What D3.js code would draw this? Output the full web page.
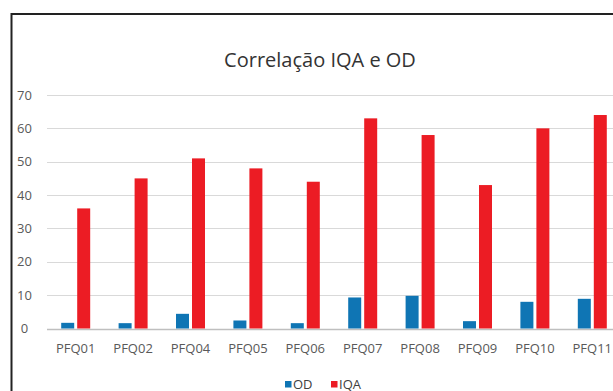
<!DOCTYPE html>
<html>
<head>
<meta charset="utf-8">
<script src="https://cdn.jsdelivr.net/npm/d3@7"></script>
<style>
    body { margin: 0; background: #ffffff; }
    svg { display: block; font-family: "Open Sans", sans-serif; }
</style>
</head>
<body>
<div class="mainView"></div>
<script>
let categories = ["PFQ01","PFQ02","PFQ04","PFQ05","PFQ06","PFQ07","PFQ08","PFQ09","PFQ10","PFQ11"]
let odValues = [1.7, 1.6, 4.4, 2.4, 1.6, 9.3, 9.8, 2.2, 8.0, 8.9]
let iqaValues = [36, 45, 51, 48, 44, 63, 58, 43, 60, 64]
let seriesNames = ["OD","IQA"]
let yTicks = [0, 10, 20, 30, 40, 50, 60, 70]

function getConfig(){
    let width = 613;
    let height = 391;
    let svg = d3.select(".mainView")
        .append("svg")
        .attr("width", width)
        .attr("height", height)
    let colors = {OD: "#0f75b4", IQA: "#ec1c24"}
    return { width, height, svg, colors }
}

function getScales(data){
    // plot runs past the right edge of the window, like the reference
    let xScale = d3.scaleBand()
        .domain(categories)
        .range([47, 621])
        .paddingInner(0.495)
        .paddingOuter(0.2475)
    let subScale = d3.scaleBand()
        .domain(seriesNames)
        .range([0, xScale.bandwidth()])
        .paddingInner(0.1875)
    let yScale = d3.scaleLinear()
        .domain([0, 70])
        .range([328.5, 95])
    return { xScale, subScale, yScale }
}

function drawFrame(config){
    let { svg } = config;
    svg.append("path")
        .attr("d", "M11.5,391 L11.5,14 L613,14")
        .attr("fill", "none")
        .attr("stroke", "#222")
        .attr("stroke-width", 2)
    svg.append("text")
        .attr("x", 320)
        .attr("y", 67)
        .attr("text-anchor", "middle")
        .style("font-size", "20px")
        .attr("fill", "#333")
        .text("Correlação IQA e OD")
}

function drawAxes(scales, config){
    let { xScale, yScale } = scales;
    let { svg } = config;
    let grid = svg.append("g")
    grid.selectAll("line")
        .data(yTicks)
        .enter()
        .append("line")
        .attr("x1", 47)
        .attr("x2", 613)
        .attr("y1", d => Math.round(yScale(d)) + 0.5)
        .attr("y2", d => Math.round(yScale(d)) + 0.5)
        .attr("stroke", d => d == 0 ? "#bfbfbf" : "#d9d9d9")
        .attr("stroke-width", d => d == 0 ? 1.5 : 1)
    grid.selectAll("text")
        .data(yTicks)
        .enter()
        .append("text")
        .attr("x", 24.5)
        .attr("y", d => yScale(d))
        .attr("dy", "0.35em")
        .attr("text-anchor", "middle")
        .style("font-size", "13px")
        .attr("fill", "#595959")
        .text(d => d)

    svg.append("g")
        .selectAll("text")
        .data(categories)
        .enter()
        .append("text")
        .attr("x", d => xScale(d) + xScale.bandwidth() / 2)
        .attr("y", 353)
        .attr("text-anchor", "middle")
        .style("font-size", "13px")
        .attr("fill", "#595959")
        .text(d => d)
}

function drawBars(data, scales, config){
    let { xScale, subScale, yScale } = scales;
    let { svg, colors } = config;
    let groups = svg.append("g")
        .selectAll("g")
        .data(data)
        .enter()
        .append("g")
        .attr("transform", d => "translate(" + xScale(d.cat) + ",0)")
    groups.selectAll("rect")
        .data(d => seriesNames.map(s => ({ series: s, value: d[s] })))
        .enter()
        .append("rect")
        .attr("x", d => subScale(d.series))
        .attr("y", d => yScale(d.value))
        .attr("width", subScale.bandwidth())
        .attr("height", d => yScale(0) - yScale(d.value))
        .attr("fill", d => colors[d.series])
}

function drawLegend(config){
    let { svg, colors } = config;
    let items = [
        { name: "OD", x: 285 },
        { name: "IQA", x: 331 }
    ]
    let leg = svg.append("g")
    leg.selectAll("rect")
        .data(items)
        .enter()
        .append("rect")
        .attr("x", d => d.x)
        .attr("y", 381)
        .attr("width", 6.5)
        .attr("height", 6.5)
        .attr("fill", d => colors[d.name])
    leg.selectAll("text")
        .data(items)
        .enter()
        .append("text")
        .attr("x", d => d.x + 8)
        .attr("y", 388.5)
        .style("font-size", "13px")
        .attr("fill", "#404040")
        .text(d => d.name)
}

let data = categories.map((c, i) => ({ cat: c, OD: odValues[i], IQA: iqaValues[i] }))
let config = getConfig();
let scales = getScales(data);
drawFrame(config);
drawAxes(scales, config);
drawBars(data, scales, config);
drawLegend(config);
</script>
</body>
</html>
